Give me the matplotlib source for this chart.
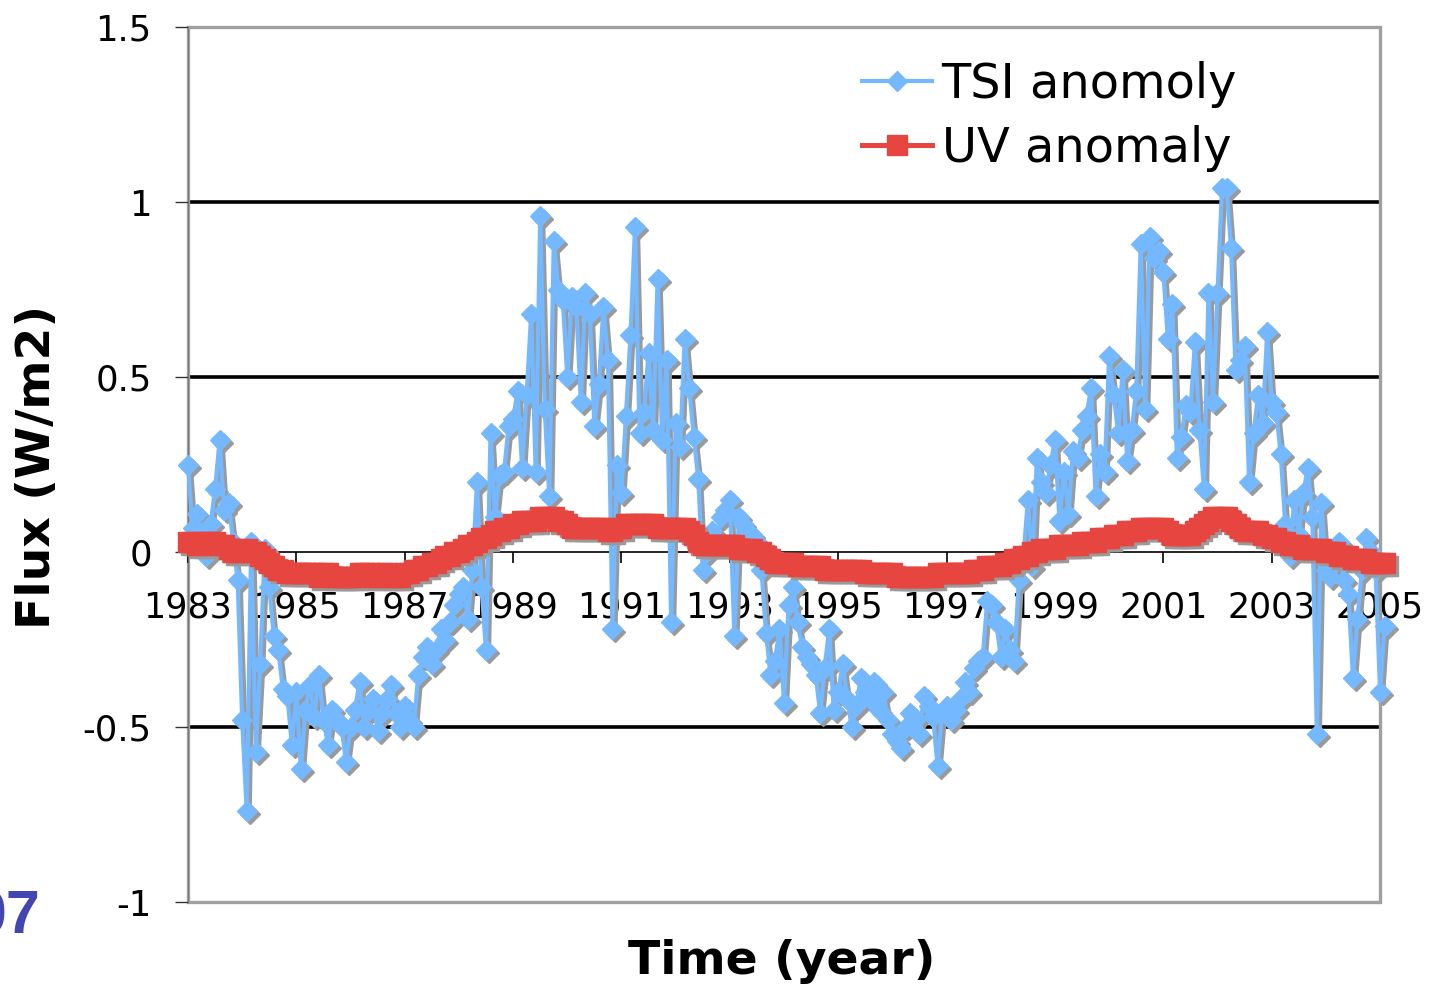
import numpy as np
import matplotlib
matplotlib.use('Agg')
import matplotlib.pyplot as plt
from matplotlib.transforms import ScaledTranslation
from matplotlib.patches import Rectangle

# monthly anomalies starting January 1983 (W/m2)
start_year = 1983
tsi_anomaly = [
    0.25, 0.07, 0.11, 0.05, -0.01, 0.08, 0.18, 0.32, 0.12, 0.14, 0.03, -0.08,       # 1983
    -0.48, -0.74, 0.03, -0.57, -0.32, 0.01, -0.10, -0.24, -0.28, -0.39, -0.41, -0.55, # 1984
    -0.40, -0.62, -0.45, -0.38, -0.47, -0.35, -0.48, -0.55, -0.45, -0.48, -0.50, -0.60, # 1985
    -0.50, -0.45, -0.37, -0.50, -0.45, -0.42, -0.51, -0.46, -0.42, -0.38, -0.46, -0.50, # 1986
    -0.44, -0.48, -0.50, -0.35, -0.30, -0.27, -0.32, -0.28, -0.22, -0.25, -0.20, -0.15, # 1987
    -0.12, -0.10, -0.19, -0.05, 0.20, -0.10, -0.28, 0.34, 0.10, 0.22, 0.23, 0.36,    # 1988
    0.38, 0.46, 0.24, 0.45, 0.68, 0.23, 0.96, 0.41, 0.16, 0.89, 0.75, 0.72,          # 1989
    0.50, 0.73, 0.70, 0.43, 0.74, 0.68, 0.36, 0.48, 0.70, 0.55, -0.22, 0.25,         # 1990
    0.17, 0.39, 0.62, 0.93, 0.34, 0.40, 0.57, 0.35, 0.78, 0.32, 0.55, -0.20,         # 1991
    0.37, 0.30, 0.61, 0.47, 0.33, 0.21, -0.05, 0.00, 0.06, 0.03, 0.10, 0.12,         # 1992
    0.15, -0.24, 0.10, 0.08, 0.06, 0.05, 0.03, -0.05, -0.23, -0.35, -0.31, -0.22,    # 1993
    -0.43, -0.15, -0.10, -0.20, -0.27, -0.30, -0.32, -0.35, -0.46, -0.33, -0.22, -0.45, # 1994
    -0.40, -0.32, -0.42, -0.50, -0.44, -0.36, -0.40, -0.42, -0.37, -0.45, -0.40, -0.48, # 1995
    -0.52, -0.54, -0.56, -0.50, -0.46, -0.48, -0.52, -0.41, -0.44, -0.47, -0.61, -0.46, # 1996
    -0.44, -0.48, -0.45, -0.42, -0.37, -0.40, -0.33, -0.31, -0.30, -0.14, -0.15, -0.20, # 1997
    -0.30, -0.22, -0.28, -0.31, -0.08, -0.02, 0.15, -0.04, 0.27, 0.20, 0.17, 0.25,   # 1998
    0.32, 0.09, 0.23, 0.11, 0.29, 0.27, 0.35, 0.39, 0.47, 0.16, 0.28, 0.23,          # 1999
    0.56, 0.45, 0.34, 0.52, 0.26, 0.35, 0.46, 0.88, 0.41, 0.90, 0.84, 0.86,          # 2000
    0.80, 0.61, 0.71, 0.27, 0.33, 0.42, 0.40, 0.60, 0.35, 0.18, 0.74, 0.43,          # 2001
    0.74, 1.04, 1.04, 0.87, 0.52, 0.55, 0.59, 0.20, 0.34, 0.45, 0.37, 0.63,          # 2002
    0.43, 0.40, 0.28, 0.08, -0.01, 0.15, 0.05, 0.17, 0.24, 0.10, -0.52, 0.14,        # 2003
    -0.05, -0.07, -0.03, 0.03, -0.08, -0.12, -0.36, -0.19, -0.05, 0.04, 0.00, -0.05, # 2004
    -0.40, -0.21,                                                                    # 2005
]
uv_anomaly = [
    0.03, 0.03, 0.02, 0.02, 0.03, 0.03, 0.03, 0.02, 0.02, 0.01, 0.00, 0.00,          # 1983
    0.01, 0.01, 0.00, 0.00, -0.01, -0.02, -0.03, -0.04, -0.05, -0.05, -0.06, -0.06,  # 1984
    -0.06, -0.06, -0.06, -0.06, -0.06, -0.07, -0.06, -0.06, -0.07, -0.07, -0.07, -0.07, # 1985
    -0.07, -0.07, -0.06, -0.06, -0.06, -0.07, -0.07, -0.06, -0.06, -0.07, -0.07, -0.07, # 1986
    -0.06, -0.06, -0.05, -0.05, -0.04, -0.04, -0.03, -0.03, -0.02, -0.01, -0.01, 0.00, # 1987
    0.00, 0.01, 0.02, 0.02, 0.03, 0.04, 0.04, 0.05, 0.06, 0.06, 0.07, 0.07,          # 1988
    0.08, 0.08, 0.09, 0.09, 0.09, 0.09, 0.10, 0.10, 0.10, 0.10, 0.09, 0.09,          # 1989
    0.08, 0.07, 0.07, 0.07, 0.07, 0.07, 0.07, 0.07, 0.07, 0.06, 0.06, 0.07,          # 1990
    0.07, 0.08, 0.08, 0.08, 0.08, 0.08, 0.08, 0.08, 0.07, 0.07, 0.07, 0.07,          # 1991
    0.07, 0.07, 0.07, 0.06, 0.05, 0.03, 0.02, 0.02, 0.02, 0.02, 0.02, 0.02,          # 1992
    0.02, 0.02, 0.01, 0.01, 0.01, 0.01, 0.00, 0.00, -0.01, -0.02, -0.03, -0.03,      # 1993
    -0.03, -0.03, -0.03, -0.04, -0.04, -0.04, -0.04, -0.04, -0.04, -0.05, -0.05, -0.05, # 1994
    -0.05, -0.05, -0.05, -0.05, -0.05, -0.05, -0.06, -0.06, -0.06, -0.06, -0.06, -0.06, # 1995
    -0.06, -0.07, -0.07, -0.07, -0.07, -0.07, -0.07, -0.07, -0.07, -0.07, -0.06, -0.06, # 1996
    -0.06, -0.06, -0.06, -0.06, -0.06, -0.06, -0.05, -0.05, -0.05, -0.04, -0.04, -0.04, # 1997
    -0.04, -0.03, -0.03, -0.02, -0.02, -0.01, -0.01, 0.00, 0.00, 0.01, 0.01, 0.01,   # 1998
    0.01, 0.02, 0.02, 0.02, 0.02, 0.02, 0.03, 0.03, 0.03, 0.03, 0.04, 0.04,          # 1999
    0.04, 0.05, 0.05, 0.05, 0.06, 0.06, 0.06, 0.07, 0.07, 0.07, 0.07, 0.07,          # 2000
    0.07, 0.06, 0.05, 0.05, 0.05, 0.05, 0.05, 0.06, 0.07, 0.08, 0.09, 0.10,          # 2001
    0.10, 0.10, 0.10, 0.09, 0.08, 0.07, 0.06, 0.06, 0.06, 0.06, 0.05, 0.05,          # 2002
    0.04, 0.04, 0.03, 0.03, 0.02, 0.02, 0.02, 0.01, 0.01, 0.01, 0.01, 0.01,          # 2003
    0.00, 0.00, 0.00, -0.01, -0.01, -0.01, -0.02, -0.02, -0.02, -0.02, -0.03, -0.03, # 2004
    -0.03, -0.03,                                                                    # 2005
]
year_ticks = list(range(1983, 2006, 2))
y_ticks = [-1, -0.5, 0, 0.5, 1, 1.5]
y_tick_labels = ['-1', '-0.5', '0', '0.5', '1', '1.5']

TSI_COLOR = '#74b8ff'
UV_COLOR = '#e64540'
SHADOW = '#9a9a9a'

t = start_year + np.arange(len(tsi_anomaly)) / 12.0

fig = plt.figure(figsize=(14.35, 9.88), dpi=100)
ax = fig.add_axes([0.131, 0.087, 0.8307, 0.8856])
ax.set_xlim(1983, 2005)
ax.set_ylim(-1, 1.5)

# gridlines
for g in [-0.5, 0.5, 1.0]:
    ax.axhline(g, color='black', lw=2.6, zorder=1)

# plot frame
ax.add_patch(Rectangle((0, 0), 1, 1, transform=ax.transAxes, fill=False,
                       edgecolor='#a0a0a0', lw=2.4, zorder=1.5, clip_on=False))
ax.axvline(1983, color='#707070', lw=1.2, zorder=1.55)

shadow = ax.transData + ScaledTranslation(3 / 100, -3 / 100, fig.dpi_scale_trans)

ax.plot(t, tsi_anomaly, color=SHADOW, lw=3, marker='D', ms=10,
        mec=SHADOW, mfc=SHADOW, transform=shadow, zorder=2, clip_on=False)
ax.plot(t, tsi_anomaly, color=TSI_COLOR, lw=3, marker='D', ms=10,
        mec=TSI_COLOR, mfc=TSI_COLOR, zorder=3, clip_on=False, label='TSI anomoly')
ax.plot(t, uv_anomaly, color=SHADOW, lw=3.6, marker='s', ms=14.5,
        mec=SHADOW, mfc=SHADOW, transform=shadow, zorder=4, clip_on=False)
ax.plot(t, uv_anomaly, color=UV_COLOR, lw=3.6, marker='s', ms=14.5,
        mec=UV_COLOR, mfc=UV_COLOR, zorder=5, clip_on=False, label='UV anomaly')

# axes: x axis crosses at zero
for s in ['top', 'right', 'left']:
    ax.spines[s].set_visible(False)
ax.spines['bottom'].set_position(('data', 0))
ax.spines['bottom'].set_color('black')
ax.spines['bottom'].set_linewidth(1.2)
ax.spines['bottom'].set_zorder(1.6)

ax.set_xticks(year_ticks)
ax.set_xticklabels([str(y) for y in year_ticks])
ax.set_yticks(y_ticks)
ax.set_yticklabels(y_tick_labels)
ax.tick_params(axis='x', direction='out', length=8, width=1.2, pad=20, labelsize=25)
ax.tick_params(axis='y', direction='out', length=9.5, width=1.0, color='#333333',
               pad=16.5, labelsize=25.5)

ax.set_ylabel('Flux (W/m2)', fontsize=34, fontweight='bold')
ax.yaxis.set_label_coords(-0.107, 0.497)
ax.set_xlabel('Time (year)', fontsize=34, fontweight='bold', va='top')
ax.xaxis.set_label_coords(0.498, -0.042)

ax.legend(loc='center left', bbox_to_anchor=(0.5654, 0.898), frameon=False,
          fontsize=34.5, handlelength=1.46, handletextpad=0.2, labelspacing=0.35,
          borderpad=0, borderaxespad=0)

fig.text(40 / 1435, 1 - 918 / 988, '07', ha='right', va='center', fontsize=44,
         fontweight='bold', color='#4346b0', family='Liberation Sans')

fig.savefig('out.png', dpi=100)
